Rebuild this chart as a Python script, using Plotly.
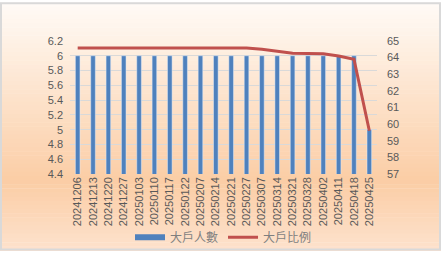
import plotly.graph_objects as go

dates = ["20241206", "20241213", "20241220", "20241227", "20250103", "20250110",
         "20250117", "20250122", "20250207", "20250214", "20250221", "20250227",
         "20250307", "20250314", "20250321", "20250328", "20250402", "20250411",
         "20250418", "20250425"]
holders = [6, 6, 6, 6, 6, 6, 6, 6, 6, 6, 6, 6, 6, 6, 6, 6, 6, 6, 6, 5]
ratio = [64.58, 64.58, 64.58, 64.58, 64.58, 64.58, 64.58, 64.58, 64.58, 64.58,
         64.58, 64.58, 64.5, 64.4, 64.27, 64.25, 64.24, 64.1, 63.9, 59.6]

W, H = 441, 263
ML, MR, MT, MB = 70, 64, 41, 81
pw, ph = W - ML - MR, H - MT - MB

fig = go.Figure()
fig.add_trace(go.Bar(x=dates, y=holders, name="大戶人數", marker_color="#4f81bd",
                     width=0.3, showlegend=False))
# legend proxy giving the wide rectangular swatch
fig.add_trace(go.Scatter(x=[None], y=[None], name="大戶人數", mode="lines",
                         line=dict(color="#4f81bd", width=6)))
fig.add_trace(go.Scatter(x=dates, y=ratio, name="大戶比例", mode="lines",
                         line=dict(color="#c0504d", width=3), yaxis="y2"))

# gradient background via stacked strips
def lerp(a, b, t):
    return tuple(int(round(a[i] + (b[i] - a[i]) * t)) for i in range(3))

stops = [(0.0, (255, 251, 247)), (0.72, (251, 205, 165)), (1.0, (253, 226, 205))]
shapes = []
N = 60
for k in range(N):
    f = (k + 0.5) / N
    for j in range(len(stops) - 1):
        if stops[j][0] <= f <= stops[j + 1][0]:
            t = (f - stops[j][0]) / (stops[j + 1][0] - stops[j][0])
            c = lerp(stops[j][1], stops[j + 1][1], t)
            break
    ytop_px = k * H / N
    ybot_px = (k + 1) * H / N + 0.5
    shapes.append(dict(type="rect", xref="paper", yref="paper", layer="below",
                       x0=-ML / pw, x1=(W - ML) / pw,
                       y0=(H - MB - ybot_px) / ph, y1=(H - MB - ytop_px) / ph,
                       fillcolor="rgb(%d,%d,%d)" % c, line=dict(width=0)))
shapes.append(dict(type="rect", xref="paper", yref="paper", layer="above",
                   x0=(-ML + 1) / pw, x1=(W - ML - 1) / pw,
                   y0=(-MB + 1) / ph, y1=(H - MB - 1) / ph,
                   fillcolor="rgba(0,0,0,0)", line=dict(color="#d9d9d9", width=2)))

font = dict(family="Liberation Sans, Noto Sans CJK TC", size=11, color="#595959")
fig.update_layout(
    width=W, height=H,
    margin=dict(l=ML, r=MR, t=MT, b=MB),
    paper_bgcolor="white", plot_bgcolor="rgba(0,0,0,0)",
    shapes=shapes, font=font, showlegend=True,
    legend=dict(orientation="h", x=0.5, xanchor="center",
                y=-(249 - (H - MB)) / ph, yanchor="middle",
                font=dict(family="Noto Sans CJK TC", size=12, color="#7f7f7f"),
                bgcolor="rgba(0,0,0,0)", itemwidth=30, tracegroupgap=0),
    xaxis=dict(type="category", tickangle=-90, showgrid=False, showline=False,
               ticks="", tickfont=font),
    yaxis=dict(range=[4.3999, 6.2001], tick0=4.4, dtick=0.2, showgrid=True,
               gridcolor="#d9d9d9", zeroline=False, showline=False, ticks="",
               tickfont=font, ticklabelstandoff=6),
    yaxis2=dict(range=[56.999, 65.001], tick0=57, dtick=1, overlaying="y", side="right",
                showgrid=False, zeroline=False, showline=False, ticks="", tickfont=font,
                ticklabelstandoff=9),
    bargap=0.7,
)
fig.write_html("out.html")
